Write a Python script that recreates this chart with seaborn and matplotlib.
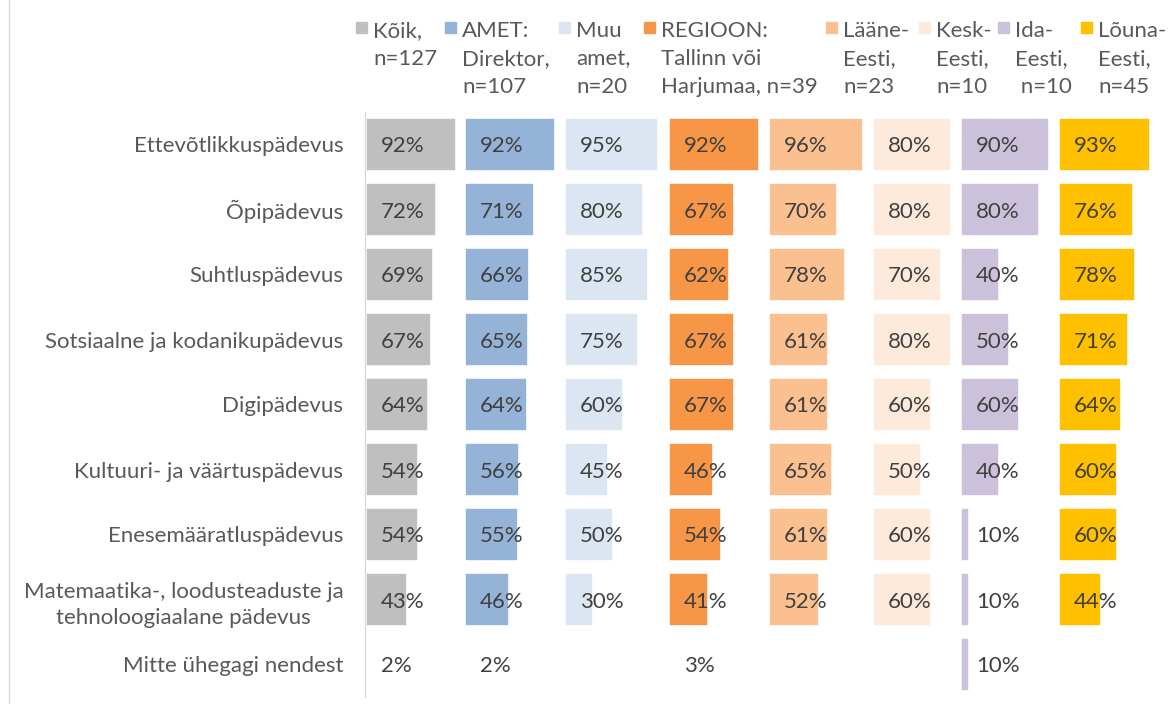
import numpy as np
import pandas as pd
import matplotlib
matplotlib.use('Agg')
import matplotlib.pyplot as plt
from matplotlib.patches import Rectangle
from matplotlib.lines import Line2D
import seaborn as sns

categories = ['Ettevõtlikkuspädevus', 'Õpipädevus', 'Suhtluspädevus',
              'Sotsiaalne ja kodanikupädevus', 'Digipädevus',
              'Kultuuri- ja väärtuspädevus', 'Enesemääratluspädevus',
              'Matemaatika-, loodusteaduste ja\ntehnoloogiaalane pädevus',
              'Mitte ühegagi nendest']

groups = ['Kõik,\nn=127', 'AMET:\nDirektor,\nn=107', 'Muu\namet,\nn=20',
          'REGIOON:\nTallinn või\nHarjumaa, n=39', 'Lääne-\nEesti,\nn=23',
          'Kesk-\nEesti,\nn=10', 'Ida-\nEesti,\n n=10', 'Lõuna-\nEesti,\nn=45']

koik = [92, 72, 69, 67, 64, 54, 54, 43, 2]
direktor = [92, 71, 66, 65, 64, 56, 55, 46, 2]
muu_amet = [95, 80, 85, 75, 60, 45, 50, 30, 0]
tallinn = [92, 67, 62, 67, 67, 46, 54, 41, 3]
laane = [96, 70, 78, 61, 61, 65, 61, 52, 0]
kesk = [80, 80, 70, 80, 60, 50, 60, 60, 0]
ida = [90, 80, 40, 50, 60, 40, 10, 10, 10]
louna = [93, 76, 78, 71, 64, 60, 60, 44, 0]
series = [koik, direktor, muu_amet, tallinn, laane, kesk, ida, louna]

colors = ['#BFBFBF', '#95B3D7', '#DCE6F2', '#F79646',
          '#FAC090', '#FDEADA', '#CCC1DA', '#FFC000']

sns.set_style('white')
plt.rcParams['font.family'] = ['Lato', 'DejaVu Sans']

W, H = 1170, 704
fig = plt.figure(figsize=(W / 100, H / 100), dpi=100)

# pixel layout of the panel columns (taken from the original)
col_left = [365, 464, 564, 668, 768, 872, 960, 1058]
col_w = 100
top, bottom = 112, 697
fs = 16

for j, vals in enumerate(series):
    ax = fig.add_axes([col_left[j] / W, 1 - bottom / H, col_w / W, (bottom - top) / H])
    ax.set_facecolor('none')
    df = pd.DataFrame({'cat': categories, 'val': vals})
    sns.barplot(data=df, x='val', y='cat', color=colors[j], orient='h',
                width=0.85, edgecolor='white', linewidth=2.6, saturation=1, ax=ax)
    ax.set_xlim(0, 100)
    ax.set_xlabel('')
    ax.set_ylabel('')
    ax.set_xticks([])
    for i, v in enumerate(vals):
        if v > 0:
            ax.annotate(f'{v}%', xy=(0, i), xytext=(11.5, 0), textcoords='offset points',
                        va='center_baseline', ha='left', color='#404040', fontsize=fs,
                        annotation_clip=False)
    for s in ['top', 'right', 'bottom']:
        ax.spines[s].set_visible(False)
    if j == 0:
        ax.spines['left'].set_color('#D9D9D9')
        ax.spines['left'].set_linewidth(1)
        ax.tick_params(axis='y', which='major', length=0, pad=15.5,
                       labelsize=fs, labelcolor='#595959')
        for lab in ax.get_yticklabels():
            lab.set_multialignment('center')
            lab.set_linespacing(1.4)
        ax.set_yticks(np.arange(-0.5, len(categories), 1), minor=True)
        ax.tick_params(axis='y', which='minor', length=6, width=1,
                       color='#D9D9D9', direction='out')
    else:
        ax.spines['left'].set_visible(False)
        ax.set_yticks([])

# legend, laid out like the original
legend_x = [373, 462, 576, 661, 843, 936, 1015, 1098]
baselines = [37, 65, 93]
for j, lab in enumerate(groups):
    tx = legend_x[j]
    fig.add_artist(Rectangle(((tx - 17) / W, 1 - 33 / H), 11 / W, 11 / H,
                             transform=fig.transFigure, color=colors[j]))
    for k, line in enumerate(lab.split('\n')):
        fig.text(tx / W, 1 - baselines[k] / H, line, ha='left', va='baseline',
                 fontsize=fs, color='#595959')

fig.add_artist(Line2D([8.5 / W, 8.5 / W], [0, 1], transform=fig.transFigure,
                      color='#D9D9D9', lw=1))

plt.savefig('out.png', dpi=100)
